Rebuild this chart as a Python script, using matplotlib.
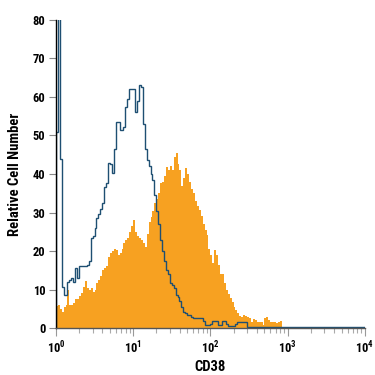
import numpy as np
import matplotlib
matplotlib.use("Agg")
import matplotlib.pyplot as plt
from matplotlib import font_manager
from matplotlib.ticker import LogLocator, FixedLocator, FuncFormatter

# histogram bins: 40 channels per decade over 10^0 .. 10^4
bins_per_decade = 40
edges = np.logspace(0, 4, 4 * bins_per_decade + 1)

# isotype control (blue outline)
isotype = [51, 88, 44, 10.6, 8.6, 8.6, 12, 12.4, 13, 12,
           15.5, 13, 16, 16, 16, 16, 16.5, 17.5, 23.5, 24,
           26, 28.5, 29.5, 31, 32.5, 36.5, 37.6, 42.8, 42.5, 40.3,
           46.5, 53.5, 53.6, 51.4, 51.4, 52.3, 57.5, 59.5, 62, 62,
           62, 56, 59, 63, 62.5, 53, 46.5, 43.6, 42, 40,
           38.4, 34.5, 30.4, 27, 22.8, 20, 17.5, 15, 14, 11.6,
           11.2, 10.5, 8.6, 8, 7, 5.5, 4.2, 3.8, 3.5, 3.4,
           3, 2.6, 2.6, 2.6, 2.6, 2.5, 1.8, 0.9, 0.9, 0.9,
           1.2, 1.8, 1.8, 1.8, 0.9, 0.9, 1.8, 1.8, 1.2, 0.5,
           0.5, 0.5, 0.5, 1.0, 1.7, 1.7, 1.7, 1.7, 1.7, 0.3] + [0.3] * 60

# CD38 stained (orange filled)
cd38 = [5.8, 6, 5, 4.2, 5.5, 6, 10, 6, 6, 6.5,
        7.5, 7.5, 8.3, 9, 10.7, 12.2, 10.5, 9.8, 10.5, 9.4,
        10, 11.6, 12.5, 13.5, 15, 15.5, 16, 18.5, 19.5, 20,
        20.5, 20.2, 19, 19.5, 20.5, 22, 23, 23.5, 25, 26.5,
        28, 25, 24, 23.5, 23, 22, 21, 24.5, 27.5, 28.9,
        30.5, 32.4, 33.5, 35, 37.6, 38, 39.5, 41.9, 41, 42,
        41, 44.5, 45.4, 42.5, 41, 37, 39, 41.5, 40, 38,
        36, 35, 33, 31.8, 30.6, 29, 27, 25.5, 24.2, 20.5,
        19, 17, 20.3, 19, 16.5, 14, 14, 11.6, 10, 8.8,
        7.8, 6.8, 5.5, 4.8, 3.8, 3.2, 3, 3.5, 3.2, 3,
        2.5, 1.6, 2.4, 2.2, 1.6, 1.6, 1.5, 0.8, 2.5, 2.9,
        2, 1.6, 1.6, 1.5, 1.3, 1.5, 1.8] + [0] * 43

y_ticks = [0, 10, 20, 30, 40, 50, 60, 70, 80]

orange = "#F7A121"
blue = "#1E4F72"

# pick a narrow font if one is installed
family = "Liberation Sans"
narrow = False
for cand in ["Liberation Sans Narrow", "Roboto Condensed", "Open Sans Condensed"]:
    try:
        font_manager.findfont(font_manager.FontProperties(family=cand), fallback_to_default=False)
        family = cand
        narrow = True
        break
    except Exception:
        pass

plt.rcParams['font.family'] = [family, 'DejaVu Sans']
plt.rcParams['mathtext.fontset'] = 'custom'
plt.rcParams['mathtext.rm'] = family
plt.rcParams['mathtext.bf'] = family + ':bold'

tick_fs = 9 if narrow else 8
lab_fs = 10.5 if narrow else 8.5

fig = plt.figure(figsize=(3.75, 3.75), dpi=100)
ax = fig.add_axes([0.149, 0.125, 0.824, 0.822])

ax.stairs(cd38, edges, fill=True, color=orange, lw=0)
ax.stairs(isotype, edges, color=blue, lw=1.0)

ax.set_xscale("log")
ax.set_xlim(1, 1e4)
ax.set_ylim(0, 80)
ax.yaxis.set_major_locator(FixedLocator(y_ticks))
ax.xaxis.set_major_locator(LogLocator(base=10, numticks=10))
ax.xaxis.set_minor_locator(LogLocator(base=10, subs=np.arange(2, 10), numticks=20))
ax.xaxis.set_major_formatter(FuncFormatter(lambda v, p: r"$\mathbf{10^{%d}}$" % round(np.log10(v))))

for s in ["top", "right"]:
    ax.spines[s].set_visible(False)
ax.spines["left"].set_color("black")
ax.spines["bottom"].set_color("#555555")
ax.spines["left"].set_linewidth(1.0)
ax.spines["bottom"].set_linewidth(1.0)

ax.tick_params(axis="y", direction="out", length=5, width=0.8, color="#888888",
               labelsize=tick_fs, pad=2.5)
ax.tick_params(axis="x", which="major", direction="out", length=5.5, width=0.8,
               color="#999999", labelsize=tick_fs, pad=2.5)
ax.tick_params(axis="x", which="minor", direction="out", length=3.5, width=0.8,
               color="#aaaaaa")
for lbl in ax.get_yticklabels() + ax.get_xticklabels():
    lbl.set_fontweight("bold")

ax.set_xlabel("CD38", fontsize=lab_fs, fontweight="bold", labelpad=3)
ax.set_ylabel("Relative Cell Number", fontsize=lab_fs, fontweight="bold", labelpad=8)

fig.savefig("out.png", dpi=100, facecolor="white")
